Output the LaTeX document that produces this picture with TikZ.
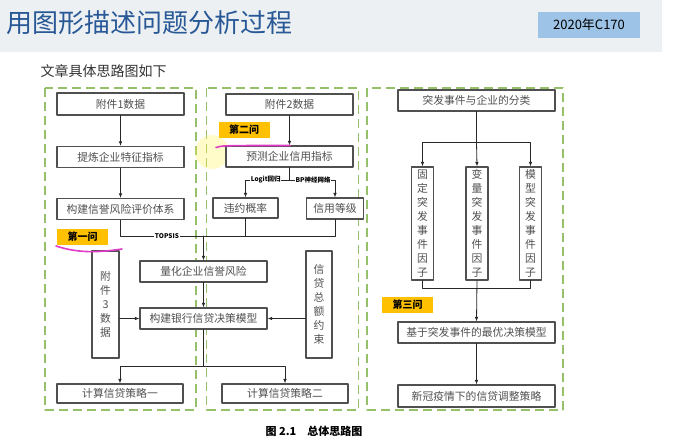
\documentclass[tikz,border=0pt]{standalone}
\usepackage{fontspec}
\setmainfont{Noto Sans CJK SC}
\usetikzlibrary{arrows.meta}
\begin{document}
\begin{tikzpicture}[x=1pt, y=-1pt, line cap=round, line join=round,
  box/.style={draw=boxgray, line width=1.2pt, fill=white, inner sep=0pt, text=txtgray,
    font=\fontsize{10.8}{14}\selectfont},
  vbox/.style={box, align=center, text width=12pt},
  ask/.style={fill=askorange, inner sep=0pt, minimum width=51pt, minimum height=16pt,
    font=\bfseries\fontsize{10}{12}\selectfont},
  lbl/.style={fill=white, inner sep=0.6pt, font=\bfseries\fontsize{6.5}{8}\selectfont},
  link/.style={line width=0.8pt, draw=linegray},
  arr/.style={link, -{Latex[length=4.5pt,width=3.6pt]}},
  panel/.style={draw=panelgreen, line width=1.8pt, line cap=butt, dash pattern=on 9pt off 5pt},
  scribble/.style={draw=markpink, line width=1.6pt}]
  \definecolor{bandgray}{RGB}{236,240,243}
  \definecolor{titleblue}{RGB}{40,88,150}
  \definecolor{tagblue}{RGB}{157,195,230}
  \definecolor{boxgray}{RGB}{80,80,80}
  \definecolor{txtgray}{RGB}{80,80,80}
  \definecolor{linegray}{RGB}{40,40,40}
  \definecolor{panelgreen}{RGB}{150,192,105}
  \definecolor{askorange}{RGB}{255,192,0}
  \definecolor{markpink}{RGB}{225,60,200}
  \useasboundingbox (0,0) rectangle (680,439);
  \fill[bandgray] (0,0) rectangle (662,52);
  \node[text=titleblue, font=\fontsize{26}{28}\selectfont, anchor=west] (title) at (3,23) {用图形描述问题分析过程};
  \node[fill=tagblue, minimum width=102pt, minimum height=26pt, inner sep=0pt,
    font=\fontsize{13}{15}\selectfont] (year) at (589,25) {2020年C170};
  \node[text=black!80, font=\fontsize{14}{16}\selectfont, anchor=west] (intro) at (37,71) {文章具体思路图如下};

  \draw[panel] (45,88) rectangle (196,410);
  \draw[panel] (206.5,88) rectangle (358.5,410);
  \draw[panel] (367,88) rectangle (563,410);
  \fill[yellow!70, opacity=0.3] (212,152) circle (17);

  % first question
  \node[box, minimum width=127pt, minimum height=22pt] (d1) at (120.5,104) {附件1数据};
  \node[box, minimum width=127pt, minimum height=21pt] (f1) at (120.5,157) {提炼企业特征指标};
  \node[box, minimum width=127pt, minimum height=21pt] (r1) at (120.5,209) {构建信誉风险评价体系};
  \node[box, minimum width=127pt, minimum height=21pt] (q1) at (203.5,271.5) {量化企业信誉风险};
  \node[box, minimum width=127pt, minimum height=21pt] (m1) at (203.5,318.5) {构建银行信贷决策模型};
  \node[vbox, minimum width=27pt, minimum height=107pt] (d3) at (105.5,304.5) {附\\件\\3\\数\\据};
  \node[vbox, minimum width=26pt, minimum height=107pt] (c1) at (319,304.5) {信\\贷\\总\\额\\约\\束};
  \node[box, minimum width=126pt, minimum height=19pt] (s1) at (120,393.5) {计算信贷策略一};
  \node[box, minimum width=126pt, minimum height=19pt] (s2) at (285,393.5) {计算信贷策略二};
  \node[ask] (t1) at (82.5,236.5) {第一问};

  % second question
  \node[box, minimum width=127pt, minimum height=21pt] (d2) at (289.5,104.5) {附件2数据};
  \node[box, minimum width=127pt, minimum height=21pt] (p2) at (289.5,156.5) {预测企业信用指标};
  \node[box, minimum width=65pt, minimum height=20pt] (v2) at (245.5,208) {违约概率};
  \node[box, minimum width=57pt, minimum height=21pt] (g2) at (335,208.5) {信用等级};
  \node[ask] (t2) at (244,130) {第二问};

  % third question
  \node[box, minimum width=157pt, minimum height=21pt] (k3) at (476.5,100.5) {突发事件与企业的分类};
  \node[vbox, minimum width=22pt, minimum height=113pt] (e1) at (422.5,223.5) {固\\定\\突\\发\\事\\件\\因\\子};
  \node[vbox, minimum width=22pt, minimum height=113pt] (e2) at (477,223.5) {变\\量\\突\\发\\事\\件\\因\\子};
  \node[vbox, minimum width=22pt, minimum height=113pt] (e3) at (530.5,223.5) {模\\型\\突\\发\\事\\件\\因\\子};
  \node[box, minimum width=157pt, minimum height=21pt] (o3) at (476.5,332.5) {基于突发事件的最优决策模型};
  \node[box, minimum width=157pt, minimum height=22pt] (n3) at (476.5,396) {新冠疫情下的信贷调整策略};
  \node[ask] (t3) at (407.5,305) {第三问};

  \coordinate (join1) at (203.5,236);
  \coordinate (fork1) at (203.5,366);
  \coordinate (fork2) at (289.5,180);
  \coordinate (fork3) at (476.5,142);
  \coordinate (join3) at (477,288);

  \draw[arr] (d1) -- (f1);
  \draw[arr] (f1) -- (r1);
  \draw[link] (r1.south) |- node[lbl, pos=0.78] {TOPSIS} (join1);
  \draw[link] (v2.south) |- (join1);
  \draw[link] (g2.south) |- (join1);
  \draw[arr] (join1) -- (q1.north);
  \draw[arr] (q1) -- (m1);
  \draw[arr] (d3.east |- m1.west) -- (m1.west);
  \draw[arr] (c1.west |- m1.east) -- (m1.east);
  \draw[link] (m1.south) -- (fork1);
  \draw[arr] (fork1) -| (s1.north);
  \draw[arr] (fork1) -| (s2.north);

  \draw[arr] (d2) -- (p2);
  \draw[link] (p2.south) -- (fork2);
  \draw[arr] (fork2) -| node[lbl, pos=0.27] {Logit回归} (v2.north);
  \draw[arr] (fork2) -| node[lbl, pos=0.26] {BP神经网络} (g2.north);

  \draw[link] (k3.south) -- (fork3);
  \draw[arr] (fork3) -| (e1.north);
  \draw[arr] (fork3) -- (e2.north);
  \draw[arr] (fork3) -| (e3.north);
  \draw[link] (e1.south) |- (join3);
  \draw[link] (e3.south) |- (join3);
  \draw[arr] (e2.south) -- (o3.north);
  \draw[arr] (o3) -- (n3);

  \draw[scribble] (56,246) .. controls (80,254) and (102,252) .. (122,249);
  \draw[scribble] (216,147.5) .. controls (222,145.5) .. (290,145.5);

  \node[font=\bfseries\fontsize{11}{13}\selectfont] (caption) at (314,431) {图 2.1\quad 总体思路图};
\end{tikzpicture}
\end{document}
